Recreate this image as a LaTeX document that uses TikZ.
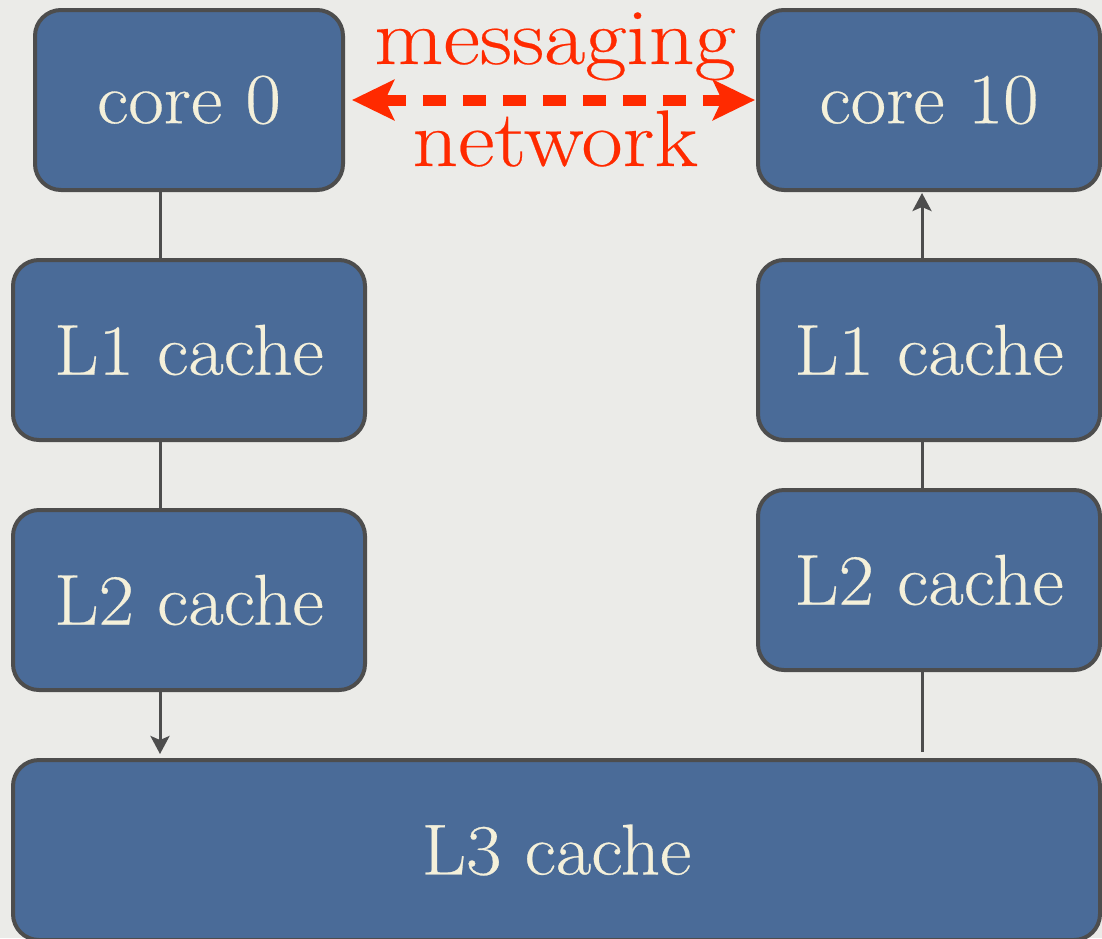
\documentclass[tikz,border=0pt]{standalone}
\usepackage{fontspec}
\setmainfont{Latin Modern Roman}[FakeStretch=1.07,FakeBold=0.4]
\newfontfamily\redfont{Latin Modern Roman}[FakeStretch=1.12,FakeBold=0.3]
\usetikzlibrary{arrows.meta}
\definecolor{bgc}{HTML}{EBEBE8}
\definecolor{boxfill}{HTML}{4A6B98}
\definecolor{boxedge}{HTML}{4D4D4D}
\definecolor{boxtext}{HTML}{F4F0DA}
\definecolor{netred}{HTML}{FF2A00}
\begin{document}
\begin{tikzpicture}[x=1pt,y=-1pt,
  unit/.style={draw=boxedge, line width=4pt, fill=boxfill, rounded corners=26pt,
    text=boxtext, font=\fontsize{72}{80}\selectfont, inner sep=0pt},
  link/.style={draw=boxedge, line width=3pt},
  linkarrow/.style={link, -{Stealth[length=18pt,width=19pt,inset=4pt]}},
  redtext/.style={text=netred, font=\redfont\fontsize{80}{90}\selectfont, inner sep=0pt, anchor=base}
]
\fill[bgc] (0,0) rectangle (1102,938);
\useasboundingbox (0,0) rectangle (1102,938);

\node[unit, minimum width=308pt, minimum height=180pt] (core0) at (189,100) {core 0};
\node[unit, minimum width=342pt, minimum height=180pt] (core10) at (929,100) {core 10};
\node[unit, minimum width=352pt, minimum height=180pt] (l1l) at (189,350) {L1 cache};
\node[unit, minimum width=352pt, minimum height=180pt] (l2l) at (189,600) {L2 cache};
\node[unit, minimum width=342pt, minimum height=180pt] (l1r) at (929,350) {L1 cache};
\node[unit, minimum width=342pt, minimum height=180pt] (l2r) at (929,580) {L2 cache};
\node[unit, minimum width=1087pt, minimum height=180pt] (l3) at (556.5,850) {L3 cache};

% left column
\draw[link] ([xshift=-29pt]core0.south) -- ([xshift=-29pt]l1l.north);
\draw[link] ([xshift=-29pt]l1l.south) -- ([xshift=-29pt]l2l.south |- l2l.north);
\draw[linkarrow, shorten >=4pt] ([xshift=-29pt]l2l.south) -- ([xshift=-29pt]l2l.south |- l3.north);

% right column
\draw[link, shorten <=6pt] ([xshift=-7pt]l2r.south |- l3.north) -- ([xshift=-7pt]l2r.south);
\draw[link] ([xshift=-7pt]l2r.north) -- ([xshift=-7pt]l1r.south);
\draw[linkarrow, shorten >=1pt] ([xshift=-7pt]l1r.north) -- ([xshift=-7pt]core10.south);

% messaging network
\draw[netred, line width=11pt, dash pattern=on 23pt off 17pt,
  {Stealth[length=42pt,width=40pt,inset=9pt]}-{Stealth[length=42pt,width=40pt,inset=9pt]},
  shorten <=7pt, shorten >=1pt] (core0.east) -- (core10.west);
\node[redtext] (msg) at (555,64) {messaging};
\node[redtext] (net) at (555,166) {network};
\end{tikzpicture}
\end{document}
